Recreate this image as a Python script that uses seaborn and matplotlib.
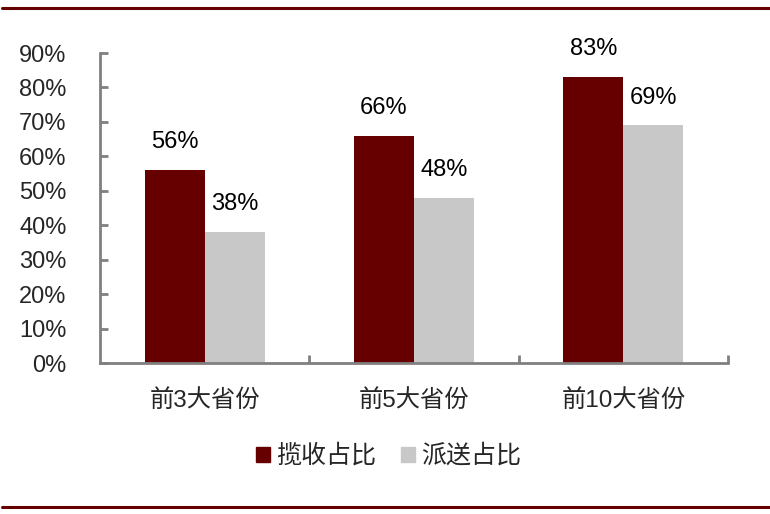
import matplotlib
matplotlib.use('Agg')
import matplotlib.pyplot as plt
import seaborn as sns
import pandas as pd
from matplotlib.lines import Line2D
from matplotlib.ticker import FuncFormatter, FixedLocator

# Datos del gráfico
categorias = ['前3大省份', '前5大省份', '前10大省份']
series = ['揽收占比', '派送占比']
lanshou = [56, 66, 83]
paisong = [38, 48, 69]
colores = ['#660000', '#C8C8C8']

sns.set_style('white')
plt.rcParams['font.family'] = ['Liberation Sans', 'Noto Sans CJK SC', 'DejaVu Sans']
plt.rcParams['font.size'] = 17

df = pd.DataFrame({
    'cat': categorias * 2,
    'serie': [series[0]] * 3 + [series[1]] * 3,
    'val': lanshou + paisong,
})

fig = plt.figure(figsize=(7.7, 5.14), dpi=100)
ax = fig.add_axes([100 / 770, 1 - 363 / 514, 628 / 770, 310 / 514])

sns.barplot(data=df, x='cat', y='val', hue='serie', palette=colores,
            width=0.573, saturation=1, linewidth=0, ax=ax, legend=False)

for c in ax.containers:
    ax.bar_label(c, labels=[f'{int(v)}%' for v in c.datavalues],
                 padding=12, fontsize=17, color='black')

ax.set_ylim(0, 90)
ax.set_xlim(-0.5, 2.5)
ax.set_yticks(range(0, 91, 10))
ax.yaxis.set_major_formatter(FuncFormatter(lambda v, p: f'{int(v)}%'))
ax.set_xlabel('')
ax.set_ylabel('')

gris = '#808080'
for s in ['top', 'right']:
    ax.spines[s].set_visible(False)
for s in ['left', 'bottom']:
    ax.spines[s].set_color(gris)
    ax.spines[s].set_linewidth(2)

ax.tick_params(axis='y', direction='in', length=6, width=2, color=gris,
               pad=24, labelsize=17, left=True)
ax.tick_params(axis='x', which='major', length=0, pad=19, labelsize=17.5)
ax.xaxis.set_minor_locator(FixedLocator([0.5, 1.5, 2.5]))
ax.tick_params(axis='x', which='minor', direction='in', length=6, width=2,
               color=gris, bottom=True)

handles = [plt.Rectangle((0, 0), 1, 1, color=c) for c in colores]
fig.legend(handles, series, loc='center', bbox_to_anchor=(0.505, 0.113),
           ncol=2, frameon=False, fontsize=18, handlelength=0.55,
           handleheight=0.55, handletextpad=0.25, columnspacing=1.0)

# Líneas decorativas arriba y abajo
for y in [1 - 7.5 / 514, 1 - 507 / 514]:
    fig.add_artist(Line2D([0.002, 1], [y, y], transform=fig.transFigure,
                          color='#660000', linewidth=2.2))

fig.savefig('out.png', dpi=100)
